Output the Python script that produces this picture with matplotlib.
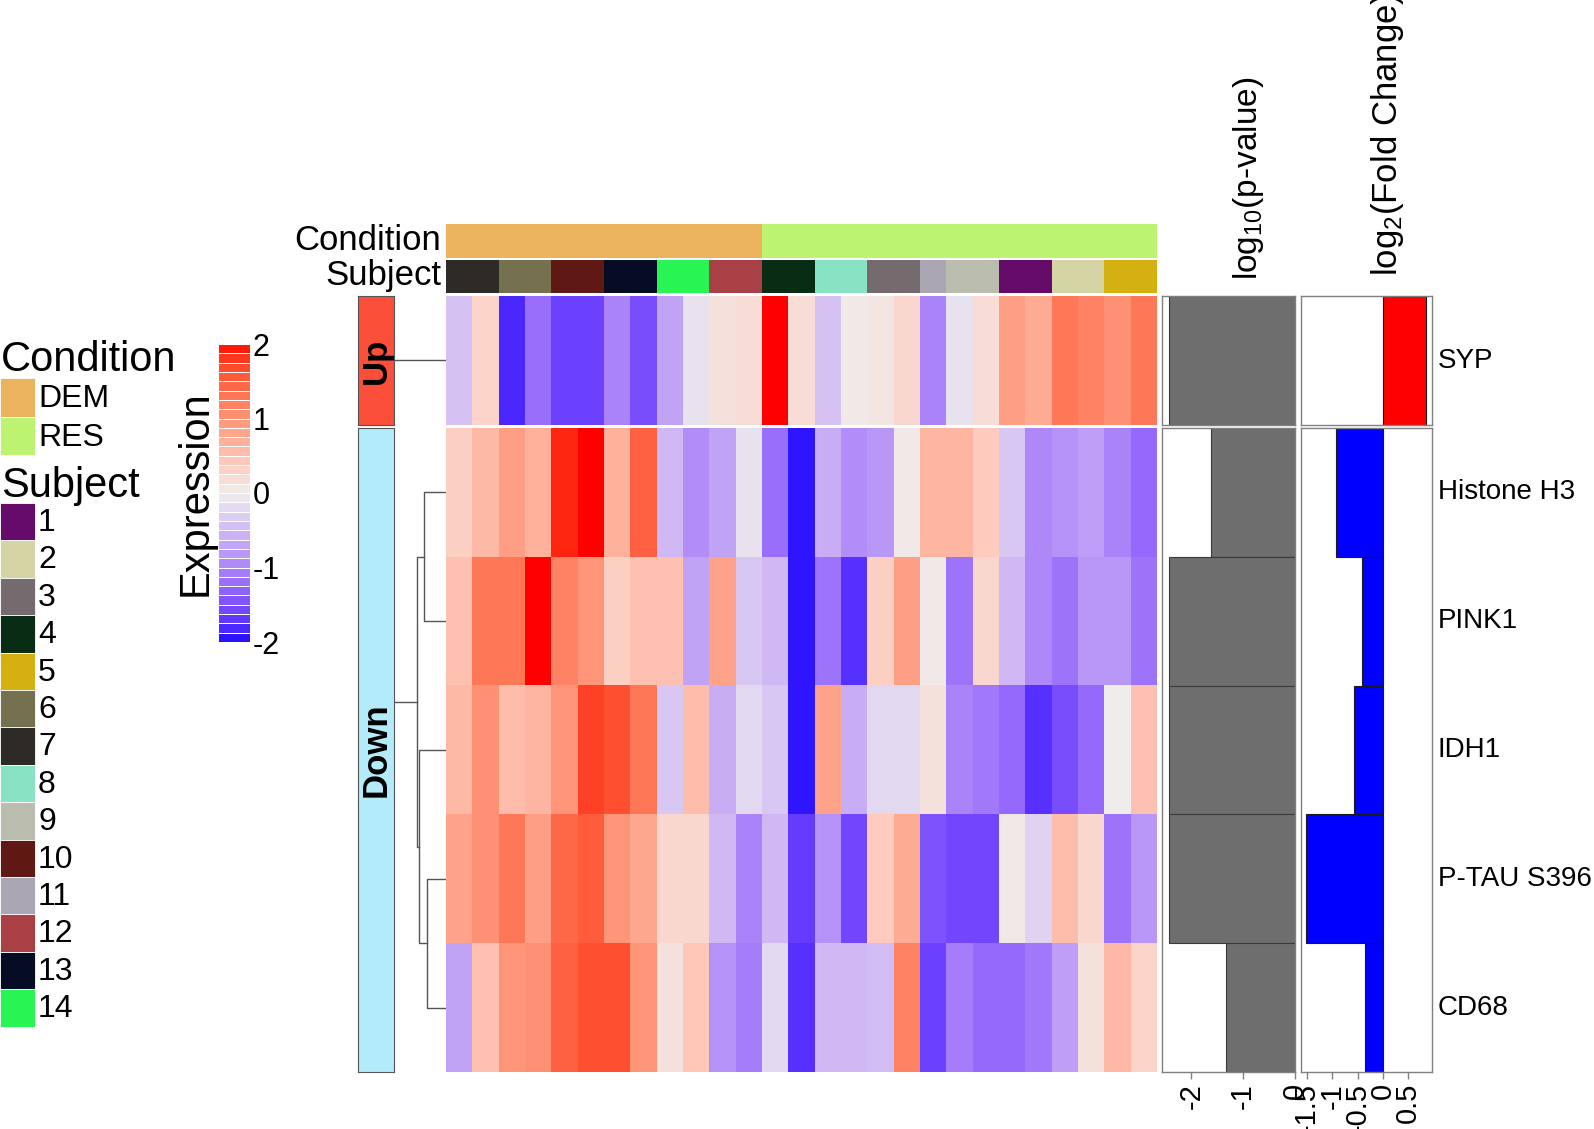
import numpy as np
import matplotlib
matplotlib.use('Agg')
import matplotlib.pyplot as plt
from matplotlib.colors import ListedColormap
from matplotlib.patches import Rectangle

plt.rcParams['font.family'] = ['Liberation Sans', 'DejaVu Sans']
plt.rcParams['mathtext.default'] = 'regular'
plt.rcParams['axes.unicode_minus'] = False

# ---- data ----
genes = ['SYP', 'Histone H3', 'PINK1', 'IDH1', 'P-TAU S396', 'CD68']
direction = ['Up', 'Down', 'Down', 'Down', 'Down', 'Down']

subjects = [7, 7, 6, 6, 10, 10, 13, 13, 14, 14, 12, 12,
            4, 4, 8, 8, 3, 3, 11, 9, 9, 1, 1, 2, 2, 5, 5]
condition = ['DEM', 'DEM', 'DEM', 'DEM', 'DEM', 'DEM', 'DEM', 'DEM', 'DEM', 'DEM', 'DEM', 'DEM',
             'RES', 'RES', 'RES', 'RES', 'RES', 'RES', 'RES', 'RES', 'RES', 'RES', 'RES', 'RES',
             'RES', 'RES', 'RES']

expr_syp = [-0.4, 0.3, -1.8, -1.2, -1.6, -1.6, -1.0, -1.5, -0.7, -0.1, 0.15, 0.2, 2.0, 0.2,
            -0.4, 0.05, 0.1, 0.25, -1.0, -0.1, 0.2, 0.9, 0.75, 1.3, 1.2, 1.05, 1.3]
expr_h3 = [0.35, 0.6, 0.9, 0.7, 1.9, 2.0, 0.7, 1.5, -0.5, -0.9, -0.7, -0.1, -1.2, -1.92,
           -0.6, -0.9, -0.8, 0.05, 0.65, 0.65, 0.4, -0.35, -0.95, -0.85, -0.75, -1.0, -1.25]
expr_pink1 = [0.5, 1.3, 1.3, 2.0, 1.2, 1.0, 0.35, 0.5, 0.5, -0.7, 0.85, -0.35, -0.5, -1.92,
              -1.15, -1.75, 0.35, 0.9, 0.05, -1.15, 0.25, -0.5, -0.95, -1.15, -0.8, -0.8, -1.15]
expr_idh1 = [0.6, 1.05, 0.55, 0.65, 1.0, 1.75, 1.65, 1.3, -0.35, 0.55, -0.6, -0.2, -0.35, -1.92,
             0.85, -0.6, -0.2, -0.2, 0.15, -1.0, -1.1, -1.25, -1.75, -1.5, -1.25, 0.0, 0.5]
expr_ptau = [0.85, 1.05, 1.3, 0.9, 1.45, 1.55, 1.0, 0.8, 0.25, 0.25, -0.5, -1.0, -0.5, -1.65,
             -0.85, -1.55, 0.4, 0.75, -1.45, -1.55, -1.55, 0.05, -0.25, 0.55, 0.25, -1.15, -0.8]
expr_cd68 = [-0.7, 0.5, 1.0, 1.05, 1.5, 1.65, 1.65, 1.0, 0.15, 0.45, -0.85, -1.05, -0.2, -1.75,
             -0.5, -0.5, -0.45, 1.2, -1.6, -1.05, -1.25, -1.25, -1.1, -0.75, 0.15, 0.6, 0.3]

log10_pval = [-2.44, -1.63, -2.44, -2.44, -2.44, -1.34]
log2_fc = [0.85, -0.93, -0.42, -0.57, -1.52, -0.35]

# merges inside the "Down" slice (leaf index, leaf/node index, height)
down_links = [(3, 4, 19.3), (0, 1, 22.4), (2, 5, 27.4), (6, 7, 29.5)]

cond_colors = {'DEM': '#ECB35F', 'RES': '#BCF471'}
subject_colors = {1: '#650C6A', 2: '#D4D4A4', 3: '#756A6E', 4: '#082C14', 5: '#D4B010',
                  6: '#75704E', 7: '#2E2A26', 8: '#88E2C4', 9: '#BABCAE', 10: '#601814',
                  11: '#AAA6B4', 12: '#A84046', 13: '#060C24', 14: '#28F454'}
dir_colors = {'Up': '#FC4F3A', 'Down': '#B4EBFB'}

expr = np.array([expr_syp, expr_h3, expr_pink1, expr_idh1, expr_ptau, expr_cd68])


# ---- colour ramp blue -> #EEEEEE -> red, interpolated in LAB like colorRamp2 ----
M = np.array([[0.4124, 0.3576, 0.1805], [0.2126, 0.7152, 0.0722], [0.0193, 0.1192, 0.9505]])
WHITE = np.array([0.95047, 1.0, 1.08883])


def to_lab(c):
    c = np.asarray(c, float)
    lin = np.where(c <= 0.04045, c / 12.92, ((c + 0.055) / 1.055) ** 2.4)
    xyz = M @ lin / WHITE
    f = np.where(xyz > 0.008856, np.cbrt(xyz), 7.787 * xyz + 16 / 116)
    return np.array([116 * f[1] - 16, 500 * (f[0] - f[1]), 200 * (f[1] - f[2])])


def from_lab(lab):
    fy = (lab[0] + 16) / 116
    f = np.array([fy + lab[1] / 500, fy, fy - lab[2] / 200])
    xyz = np.where(f ** 3 > 0.008856, f ** 3, (f - 16 / 116) / 7.787) * WHITE
    lin = np.clip(np.linalg.inv(M) @ xyz, 0, 1)
    return np.clip(np.where(lin <= 0.0031308, 12.92 * lin, 1.055 * lin ** (1 / 2.4) - 0.055), 0, 1)


lab_blue, lab_mid, lab_red = to_lab([0, 0, 1]), to_lab([0.933, 0.933, 0.933]), to_lab([1, 0, 0])
ramp = []
for v in np.linspace(-2, 2, 256):
    if v < 0:
        t = (v + 2) / 2
        ramp.append(from_lab(lab_blue + t * (lab_mid - lab_blue)))
    else:
        t = v / 2
        ramp.append(from_lab(lab_mid + t * (lab_red - lab_mid)))
cmap = ListedColormap(ramp)

# ---- layout helpers (pixel coords, y from top) ----
W, H = 1594, 1129
fig = plt.figure(figsize=(W / 100, H / 100), dpi=100)


def px_axes(x0, y0, x1, y1):
    return fig.add_axes([x0 / W, 1 - y1 / H, (x1 - x0) / W, (y1 - y0) / H])


def px_text(x, y, s, **kw):
    fig.text(x / W, 1 - y / H, s, **kw)


HX0, HX1 = 446, 1157
slices = [(296, 425, [0]), (428, 1072, [1, 2, 3, 4, 5])]
ncol = len(subjects)

# top annotations
ax_c = px_axes(HX0, 224, HX1, 258)
ax_c.bar(range(ncol), 1, width=1, color=[cond_colors[c] for c in condition])
ax_s = px_axes(HX0, 260, HX1, 293)
ax_s.bar(range(ncol), 1, width=1, color=[subject_colors[s] for s in subjects])
for a in (ax_c, ax_s):
    a.set_xlim(-0.5, ncol - 0.5)
    a.set_ylim(0, 1)
    a.axis('off')
px_text(441, 241, 'Condition', fontsize=25, ha='right', va='center')
px_text(441, 276, 'Subject', fontsize=25, ha='right', va='center')

for y0, y1, rows in slices:
    n = len(rows)
    # heatmap
    ax = px_axes(HX0, y0, HX1, y1)
    ax.imshow(expr[rows], cmap=cmap, vmin=-2, vmax=2, aspect='auto', interpolation='nearest')
    ax.axis('off')

    # split label box
    lab = direction[rows[0]]
    axb = px_axes(358, y0, 394, y1)
    axb.set_facecolor(dir_colors[lab])
    axb.set_xticks([])
    axb.set_yticks([])
    for sp in axb.spines.values():
        sp.set_color('#555555')
        sp.set_linewidth(0.8)
    axb.text(0.5, 0.5, lab, rotation=90, fontsize=25, fontweight='bold',
             ha='center', va='center', transform=axb.transAxes)

    # row dendrogram
    axd = px_axes(394, y0, HX0, y1)
    axd.set_xlim(HX0 - 394, 0)
    axd.set_ylim(n - 0.5, -0.5)
    axd.axis('off')
    lc = dict(color='#555555', lw=1)
    if n == 1:
        axd.plot([0, HX0 - 394], [0, 0], **lc)
    else:
        pos = {i: (float(i), 0.0) for i in range(n)}
        nid = n
        for a_, b_, h in down_links:
            ya, ha = pos[a_]
            yb, hb = pos[b_]
            axd.plot([ha, h, h, hb], [ya, ya, yb, yb], **lc)
            pos[nid] = ((ya + yb) / 2, h)
            nid += 1
        yr, hr = pos[nid - 1]
        axd.plot([hr, HX0 - 394], [yr, yr], **lc)

    # p-value bars
    axp = px_axes(1162, y0, 1295, y1)
    axp.barh(range(n), [log10_pval[r] for r in rows], height=1,
             color='#6E6E6E', edgecolor='#3A3A3A', linewidth=0.8)
    axp.set_xlim(-2.57, 0)

    # fold change bars
    axf = px_axes(1301, y0, 1432, y1)
    fcv = [log2_fc[r] for r in rows]
    axf.barh(range(n), fcv, height=1,
             color=['#FF0000' if v > 0 else '#0000FF' for v in fcv],
             edgecolor='#1A1A1A', linewidth=0.8)
    axf.set_xlim(-1.62, 0.97)

    for a in (axp, axf):
        a.set_ylim(n - 0.5, -0.5)
        a.set_yticks([])
        for sp in a.spines.values():
            sp.set_color('#808080')
            sp.set_linewidth(1)
        if y1 < 1000:
            a.set_xticks([])
        else:
            a.tick_params(axis='x', colors='#808080', length=5, width=1,
                          labelsize=21, labelcolor='black', labelrotation=90, pad=3)
    if y1 > 1000:
        axp.set_xticks([-2, -1, 0])
        axp.set_xticklabels(['-2', '-1', '0'])
        axf.set_xticks([-1.5, -1, -0.5, 0, 0.5])
        axf.set_xticklabels(['-1.5', '-1', '-0.5', '0', '0.5'])

    for r in rows:
        yc = y0 + (rows.index(r) + 0.5) * (y1 - y0) / n
        px_text(1438, yc, genes[r], fontsize=20, ha='left', va='center')

# column titles of the bar annotations
px_text(1248, 280, 'log$_{10}$(p-value)', fontsize=24, rotation=90, ha='center', va='bottom')
px_text(1388, 276, 'log$_{2}$(Fold Change)', fontsize=25, rotation=90, ha='center', va='bottom')

# ---- legends ----
ov = fig.add_axes([0, 0, 1, 1], zorder=-1)
ov.set_xlim(0, W)
ov.set_ylim(H, 0)
ov.axis('off')

px_text(1, 360, 'Condition', fontsize=30, ha='left', va='center')
for i, name in enumerate(['DEM', 'RES']):
    ytop = 378 + i * 38.5
    ov.add_patch(Rectangle((0, ytop), 35, 38.5, facecolor=cond_colors[name],
                           edgecolor='white', linewidth=0.6))
    px_text(38, ytop + 21, name, fontsize=23, ha='left', va='center')

px_text(1, 486, 'Subject', fontsize=30, ha='left', va='center')
for i, s in enumerate(sorted(subject_colors)):
    ytop = 503 + i * 37.4
    ov.add_patch(Rectangle((0, ytop), 35, 37.4, facecolor=subject_colors[s],
                           edgecolor='white', linewidth=0.6))
    px_text(38, ytop + 20, str(s), fontsize=23, ha='left', va='center')

# colour key
cax = px_axes(218, 344, 250, 642)
bands = np.linspace(-2, 2, 33)
cax.pcolormesh([0, 1], bands, ((bands[:-1] + bands[1:]) / 2)[:, None], cmap=cmap,
               vmin=-2, vmax=2, edgecolors='white', linewidth=0.4)
cax.set_xlim(0, 1)
cax.set_ylim(-2, 2)
cax.set_xticks([])
cax.yaxis.tick_right()
cax.set_yticks([-2, -1, 0, 1, 2])
cax.tick_params(axis='y', length=0, labelsize=22, pad=2)
for sp in cax.spines.values():
    sp.set_visible(False)
cax.set_ylabel('Expression', fontsize=30, labelpad=2)

fig.savefig('out.png', dpi=100)
